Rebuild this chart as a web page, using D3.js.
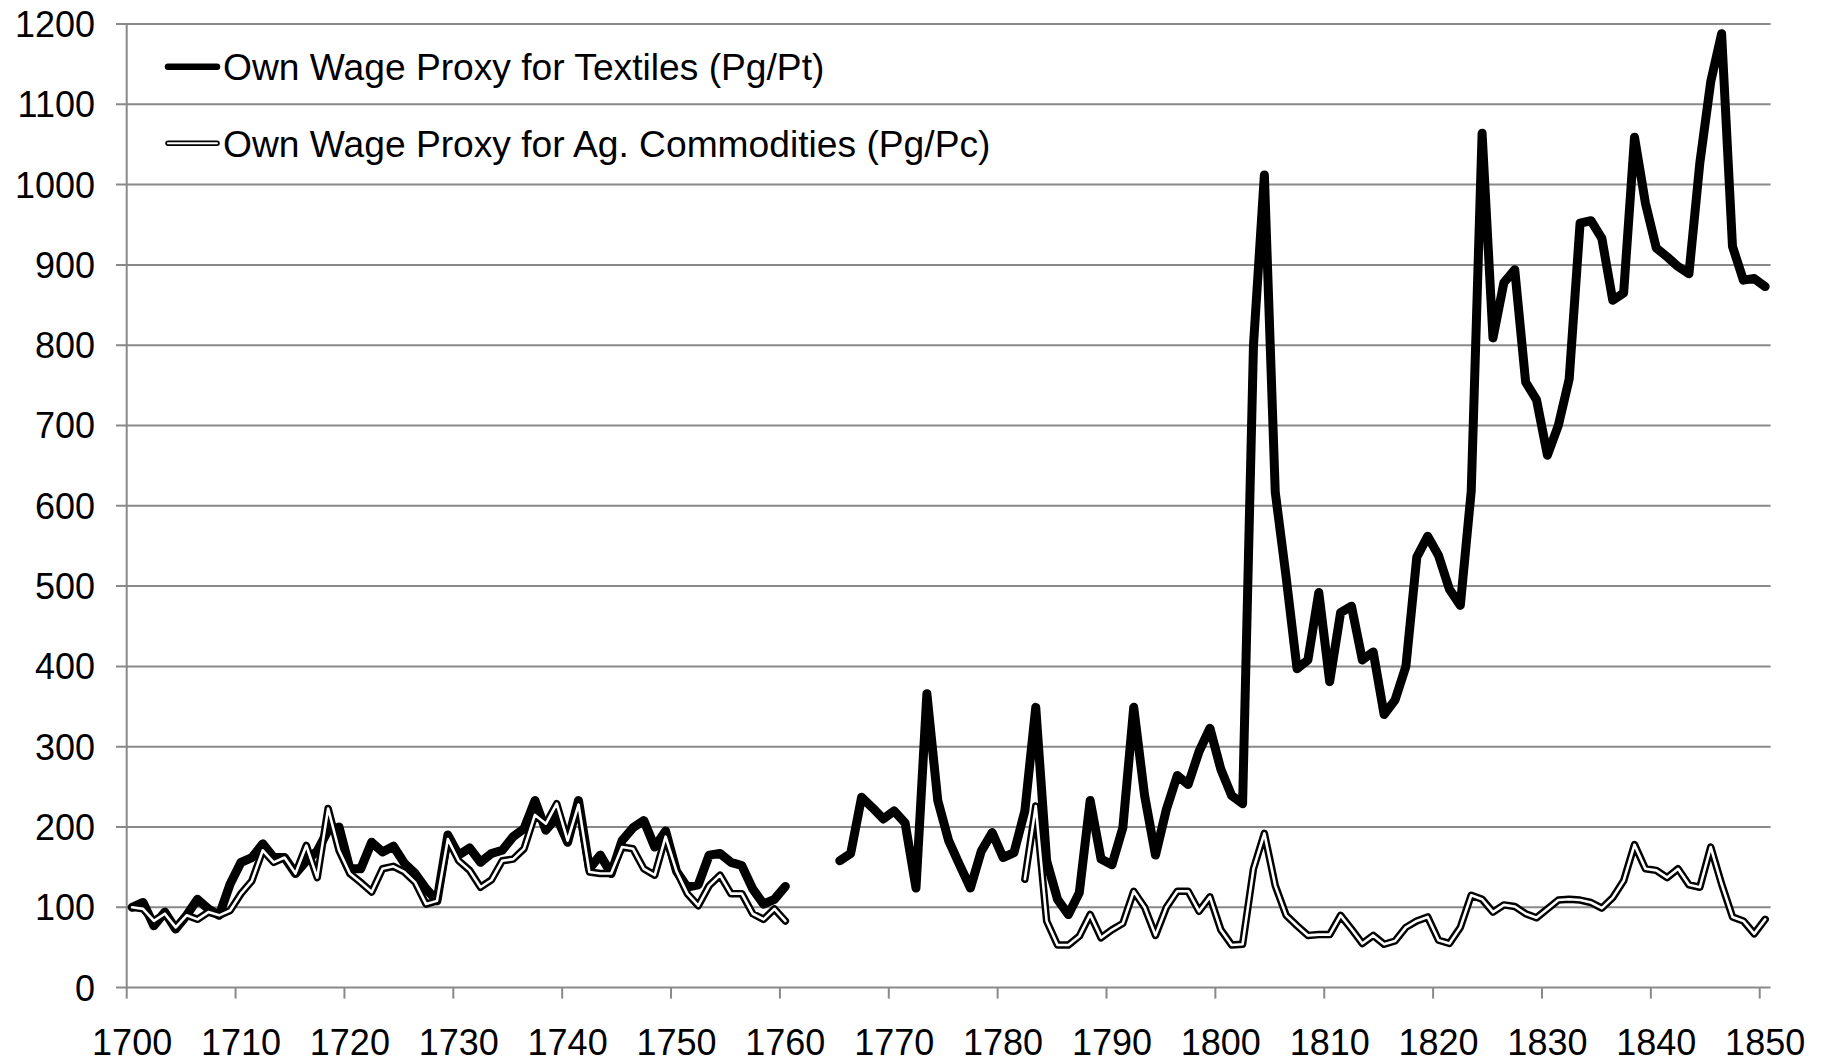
<!DOCTYPE html>
<html>
<head>
<meta charset="utf-8">
<script src="https://cdn.jsdelivr.net/npm/d3@7"></script>
<style>
  body { margin: 0; background: #fff; }
  svg text { font-family: "Liberation Sans", Arial, sans-serif; fill: #000; }
</style>
</head>
<body>
<div id="chart"></div>
<script>
// Years on the category axis
const firstYear = 1700;
const lastYear = 1850;
const tickYears = [1700, 1710, 1720, 1730, 1740, 1750, 1760, 1770, 1780, 1790, 1800, 1810, 1820, 1830, 1840, 1850];
const yTicks = [0, 100, 200, 300, 400, 500, 600, 700, 800, 900, 1000, 1100, 1200];

// Own wage proxy for textiles (Pg/Pt), one value per year from 1700, null = no data
const textiles = [
  100, 106, 77, 94, 73, 90, 110, 98, 90, 129,          // 1700-1709
  156, 162, 179, 162, 162, 142, 158, 170, 196, 200,    // 1710-1719
  148, 148, 181, 169, 176, 155, 142, 123, 108, 190,    // 1720-1729
  165, 174, 156, 167, 171, 188, 198, 233, 196, 212,    // 1730-1739
  181, 233, 148, 165, 142, 183, 199, 208, 175, 195,    // 1740-1749
  145, 125, 128, 165, 167, 156, 152, 123, 104, 110,    // 1750-1759
  126, null, null, null, null, 158, 167, 237, 224, 210, // 1760-1769
  220, 205, 124, 366, 233, 183, 153, 124, 170, 193,    // 1770-1779
  162, 168, 220, 349, 158, 110, 91, 118, 233, 160,     // 1780-1789
  153, 199, 349, 239, 165, 222, 264, 253, 294, 323,    // 1790-1799
  272, 239, 229, 800, 1012, 617, 511, 397, 408, 492,   // 1800-1809
  381, 467, 475, 408, 418, 340, 358, 400, 536, 562,    // 1810-1819
  538, 496, 476, 618, 1064, 809, 878, 894, 754, 732,   // 1820-1829
  663, 700, 758, 952, 955, 933, 856, 865, 1059, 977,   // 1830-1839
  921, 910, 898, 889, 1027, 1128, 1188, 923, 881, 883, // 1840-1849
  873                                                  // 1850
];

// Own wage proxy for agricultural commodities (Pg/Pc)
const agCommodities = [
  100, 98, 83, 92, 75, 90, 85, 94, 90, 96,             // 1700-1709
  117, 133, 171, 156, 162, 142, 177, 137, 223, 171,    // 1710-1719
  142, 131, 119, 148, 151, 144, 131, 104, 108, 185,    // 1720-1729
  158, 146, 125, 134, 158, 160, 173, 215, 204, 229,    // 1730-1739
  183, 228, 144, 142, 142, 175, 173, 148, 140, 188,    // 1740-1749
  145, 117, 102, 127, 140, 117, 117, 92, 85, 98,       // 1750-1759
  83, null, null, null, null, null, null, null, null, null, // 1760-1769
  null, null, null, null, null, null, null, null, null, null, // 1770-1779
  null, null, 135, 226, 83, 53, 53, 64, 91, 62,        // 1780-1789
  72, 80, 120, 100, 65, 100, 120, 120, 95, 113,        // 1790-1799
  72, 53, 54, 148, 192, 127, 90, 77, 65, 66,           // 1800-1809
  66, 90, 73, 55, 65, 54, 58, 75, 83, 88,              // 1810-1819
  59, 55, 75, 115, 110, 94, 103, 101, 92, 87,          // 1820-1829
  98, 109, 110, 109, 106, 99, 112, 133, 178, 148,      // 1830-1839
  146, 137, 148, 128, 125, 175, 129, 88, 83, 67,       // 1840-1849
  85                                                   // 1850
];

const seriesNames = [
  'Own Wage Proxy for Textiles (Pg/Pt)',
  'Own Wage Proxy for Ag. Commodities (Pg/Pc)'
];

const width = 1830, height = 1064;
const gridColor = '#898989';

const svg = d3.select('#chart').append('svg')
    .attr('width', width)
    .attr('height', height);

// Category axis: each year gets one slot, ticks sit on slot edges
const x = d3.scaleLinear()
    .domain([firstYear - 0.5, lastYear + 0.5])
    .range([126.7, 1770.6]);

const y = d3.scaleLinear()
    .domain([0, 1200])
    .range([987.6, 24]);

// Horizontal gridlines (with the little tick stub left of the axis)
svg.append('g')
  .selectAll('line')
  .data(yTicks.filter(d => d > 0))
  .join('line')
    .attr('x1', 116)
    .attr('x2', x(lastYear + 0.5))
    .attr('y1', d => y(d))
    .attr('y2', d => y(d))
    .attr('stroke', gridColor)
    .attr('stroke-width', 2);

// Y axis line
svg.append('line')
    .attr('x1', x(firstYear - 0.5))
    .attr('x2', x(firstYear - 0.5))
    .attr('y1', y(1200))
    .attr('y2', y(0))
    .attr('stroke', gridColor)
    .attr('stroke-width', 2);

// X axis line
svg.append('line')
    .attr('x1', 116)
    .attr('x2', x(lastYear + 0.5))
    .attr('y1', y(0))
    .attr('y2', y(0))
    .attr('stroke', gridColor)
    .attr('stroke-width', 2);

// X ticks between categories
svg.append('g')
  .selectAll('line')
  .data(tickYears)
  .join('line')
    .attr('x1', d => x(d - 0.5))
    .attr('x2', d => x(d - 0.5))
    .attr('y1', y(0))
    .attr('y2', y(0) + 11)
    .attr('stroke', gridColor)
    .attr('stroke-width', 2);

// Y labels
svg.append('g')
  .selectAll('text')
  .data(yTicks)
  .join('text')
    .attr('x', 95)
    .attr('y', d => y(d))
    .attr('dy', '0.36em')
    .attr('text-anchor', 'end')
    .style('font-size', '36px')
    .text(d => d);

// X labels
svg.append('g')
  .selectAll('text')
  .data(tickYears)
  .join('text')
    .attr('x', d => x(d))
    .attr('y', 1055)
    .attr('text-anchor', 'middle')
    .style('font-size', '36px')
    .text(d => d);

// Line generator, gaps where there is no data
const line = d3.line()
    .defined(d => d.v !== null)
    .x(d => x(d.year))
    .y(d => y(d.v));

const toPoints = arr => arr.map((v, i) => ({ year: firstYear + i, v: v }));

// Textiles: thick black line
svg.append('path')
    .datum(toPoints(textiles))
    .attr('d', line)
    .attr('fill', 'none')
    .attr('stroke', '#000')
    .attr('stroke-width', 9)
    .attr('stroke-linejoin', 'round')
    .attr('stroke-linecap', 'round');

// Ag commodities: double line (black outline, white core)
const agPoints = toPoints(agCommodities);
svg.append('path')
    .datum(agPoints)
    .attr('d', line)
    .attr('fill', 'none')
    .attr('stroke', '#000')
    .attr('stroke-width', 7.5)
    .attr('stroke-linejoin', 'round')
    .attr('stroke-linecap', 'round');
svg.append('path')
    .datum(agPoints)
    .attr('d', line)
    .attr('fill', 'none')
    .attr('stroke', '#fff')
    .attr('stroke-width', 2.6)
    .attr('stroke-linejoin', 'round')
    .attr('stroke-linecap', 'round');

// Legend
const legend = svg.append('g');
const legendY = [66.7, 143.3];

legend.append('line')
    .attr('x1', 168).attr('x2', 217)
    .attr('y1', legendY[0]).attr('y2', legendY[0])
    .attr('stroke', '#000')
    .attr('stroke-width', 6.5)
    .attr('stroke-linecap', 'round');

legend.append('line')
    .attr('x1', 168).attr('x2', 217)
    .attr('y1', legendY[1]).attr('y2', legendY[1])
    .attr('stroke', '#000')
    .attr('stroke-width', 5.5)
    .attr('stroke-linecap', 'round');
legend.append('line')
    .attr('x1', 168).attr('x2', 217)
    .attr('y1', legendY[1]).attr('y2', legendY[1])
    .attr('stroke', '#fff')
    .attr('stroke-width', 2)
    .attr('stroke-linecap', 'round');

legend.selectAll('text')
  .data(seriesNames)
  .join('text')
    .attr('x', 223)
    .attr('y', (d, i) => legendY[i])
    .attr('dy', '0.36em')
    .style('font-size', '37.2px')
    .text(d => d);
</script>
</body>
</html>
